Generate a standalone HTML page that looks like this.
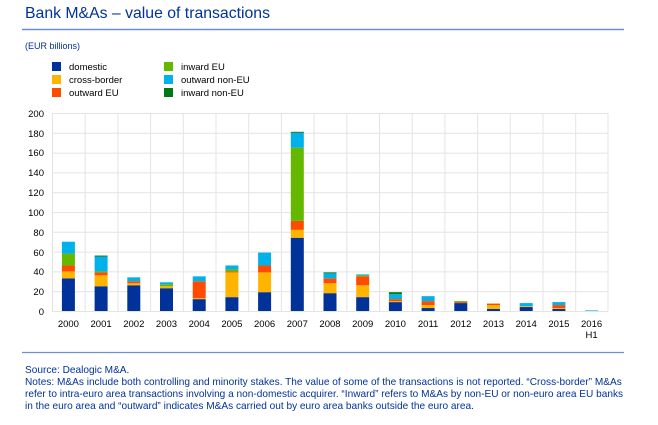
<!DOCTYPE html>
<html><head><meta charset="utf-8"><style>
body{margin:0;width:658px;height:425px;background:#fff;font-family:"Liberation Sans",Arial,sans-serif;overflow:hidden}
svg{position:absolute;left:0;top:0}
</style></head><body>
<svg width="658" height="425" xmlns="http://www.w3.org/2000/svg" font-family="Liberation Sans, Arial, sans-serif">
<text x="25" y="18" font-size="15.8" fill="#003299">Bank M&amp;As – value of transactions</text>
<line x1="22" y1="29.5" x2="624" y2="29.5" stroke="#6b8fd0" stroke-width="1.5"/>
<text x="25" y="49" font-size="9" fill="#003299">(EUR billions)</text>
<g font-size="9.5" fill="#000">
<rect x="52" y="62" width="9" height="9" fill="#003299"/><text x="69" y="70">domestic</text>
<rect x="52" y="75" width="9" height="9" fill="#ffb400"/><text x="69" y="83">cross-border</text>
<rect x="52" y="88" width="9" height="9" fill="#ff4b00"/><text x="69" y="96">outward EU</text>
<rect x="164" y="62" width="9" height="9" fill="#65b800"/><text x="181" y="70">inward EU</text>
<rect x="164" y="75" width="9" height="9" fill="#00b1ea"/><text x="181" y="83">outward non-EU</text>
<rect x="164" y="88" width="9" height="9" fill="#007816"/><text x="181" y="96">inward non-EU</text>
</g>
<g stroke="#e4e4e4" stroke-width="1">
<line x1="52" y1="113.5" x2="608" y2="113.5"/><line x1="52" y1="133.3" x2="608" y2="133.3"/><line x1="52" y1="153.1" x2="608" y2="153.1"/><line x1="52" y1="172.9" x2="608" y2="172.9"/><line x1="52" y1="192.7" x2="608" y2="192.7"/><line x1="52" y1="212.5" x2="608" y2="212.5"/><line x1="52" y1="232.3" x2="608" y2="232.3"/><line x1="52" y1="252.1" x2="608" y2="252.1"/><line x1="52" y1="271.9" x2="608" y2="271.9"/><line x1="52" y1="291.7" x2="608" y2="291.7"/><line x1="52" y1="311.5" x2="608" y2="311.5"/>
<line x1="52.5" y1="113" x2="52.5" y2="311"/><line x1="85.2" y1="113" x2="85.2" y2="311"/><line x1="117.9" y1="113" x2="117.9" y2="311"/><line x1="150.6" y1="113" x2="150.6" y2="311"/><line x1="183.3" y1="113" x2="183.3" y2="311"/><line x1="216" y1="113" x2="216" y2="311"/><line x1="248.7" y1="113" x2="248.7" y2="311"/><line x1="281.4" y1="113" x2="281.4" y2="311"/><line x1="314.1" y1="113" x2="314.1" y2="311"/><line x1="346.8" y1="113" x2="346.8" y2="311"/><line x1="379.5" y1="113" x2="379.5" y2="311"/><line x1="412.2" y1="113" x2="412.2" y2="311"/><line x1="444.9" y1="113" x2="444.9" y2="311"/><line x1="477.6" y1="113" x2="477.6" y2="311"/><line x1="510.3" y1="113" x2="510.3" y2="311"/><line x1="543" y1="113" x2="543" y2="311"/><line x1="575.7" y1="113" x2="575.7" y2="311"/><line x1="608" y1="113" x2="608" y2="311"/>
</g>
<g font-size="9.5" fill="#000" text-anchor="end">
<text x="44" y="117">200</text><text x="44" y="137">180</text><text x="44" y="156">160</text><text x="44" y="176">140</text><text x="44" y="196">120</text><text x="44" y="216">100</text><text x="44" y="236">80</text><text x="44" y="256">60</text><text x="44" y="275">40</text><text x="44" y="295">20</text><text x="44" y="315">0</text>
</g>
<g transform="translate(0,311) scale(1,-0.99)">
<g transform="translate(61.9,0)"><rect width="13" y="0" height="33" fill="#003299"/><rect width="13" y="33" height="7" fill="#ffb400"/><rect width="13" y="40" height="6" fill="#ff4b00"/><rect width="13" y="46" height="12" fill="#65b800"/><rect width="13" y="58" height="12" fill="#00b1ea"/></g>
<g transform="translate(94.6,0)"><rect width="13" y="0" height="25" fill="#003299"/><rect width="13" y="25" height="11" fill="#ffb400"/><rect width="13" y="36" height="3" fill="#ff4b00"/><rect width="13" y="39" height="1" fill="#65b800"/><rect width="13" y="40" height="15" fill="#00b1ea"/><rect width="13" y="55" height="1" fill="#007816"/></g>
<g transform="translate(127.3,0)"><rect width="13" y="0" height="26" fill="#003299"/><rect width="13" y="26" height="2" fill="#ffb400"/><rect width="13" y="28" height="2" fill="#ff4b00"/><rect width="13" y="30" height="4" fill="#00b1ea"/></g>
<g transform="translate(160,0)"><rect width="13" y="0" height="23" fill="#003299"/><rect width="13" y="23" height="2" fill="#ffb400"/><rect width="13" y="25" height="2" fill="#65b800"/><rect width="13" y="27" height="2" fill="#00b1ea"/></g>
<g transform="translate(192.7,0)"><rect width="13" y="0" height="12" fill="#003299"/><rect width="13" y="12" height="1" fill="#ffb400"/><rect width="13" y="13" height="17" fill="#ff4b00"/><rect width="13" y="30" height="5" fill="#00b1ea"/></g>
<g transform="translate(225.4,0)"><rect width="13" y="0" height="14" fill="#003299"/><rect width="13" y="14" height="25" fill="#ffb400"/><rect width="13" y="39" height="1" fill="#ff4b00"/><rect width="13" y="40" height="2" fill="#65b800"/><rect width="13" y="42" height="4" fill="#00b1ea"/></g>
<g transform="translate(258.1,0)"><rect width="13" y="0" height="19" fill="#003299"/><rect width="13" y="19" height="20" fill="#ffb400"/><rect width="13" y="39" height="7" fill="#ff4b00"/><rect width="13" y="46" height="13" fill="#00b1ea"/></g>
<g transform="translate(290.8,0)"><rect width="13" y="0" height="74" fill="#003299"/><rect width="13" y="74" height="8" fill="#ffb400"/><rect width="13" y="82" height="9" fill="#ff4b00"/><rect width="13" y="91" height="74" fill="#65b800"/><rect width="13" y="165" height="15" fill="#00b1ea"/><rect width="13" y="180" height="1" fill="#007816"/></g>
<g transform="translate(323.5,0)"><rect width="13" y="0" height="18" fill="#003299"/><rect width="13" y="18" height="10" fill="#ffb400"/><rect width="13" y="28" height="5" fill="#ff4b00"/><rect width="13" y="33" height="5" fill="#00b1ea"/><rect width="13" y="38" height="1" fill="#007816"/></g>
<g transform="translate(356.2,0)"><rect width="13" y="0" height="14" fill="#003299"/><rect width="13" y="14" height="12" fill="#ffb400"/><rect width="13" y="26" height="9" fill="#ff4b00"/><rect width="13" y="35" height="1" fill="#65b800"/><rect width="13" y="36" height="1" fill="#00b1ea"/></g>
<g transform="translate(388.9,0)"><rect width="13" y="0" height="9" fill="#003299"/><rect width="13" y="9" height="1" fill="#ffb400"/><rect width="13" y="10" height="2" fill="#ff4b00"/><rect width="13" y="12" height="5" fill="#00b1ea"/><rect width="13" y="17" height="2" fill="#007816"/></g>
<g transform="translate(421.6,0)"><rect width="13" y="0" height="3" fill="#003299"/><rect width="13" y="3" height="3" fill="#ffb400"/><rect width="13" y="6" height="4" fill="#ff4b00"/><rect width="13" y="10" height="5" fill="#00b1ea"/></g>
<g transform="translate(454.3,0)"><rect width="13" y="0" height="8" fill="#003299"/><rect width="13" y="8" height="1" fill="#ff4b00"/><rect width="13" y="9" height="1" fill="#65b800"/></g>
<g transform="translate(487,0)"><rect width="13" y="0" height="2" fill="#003299"/><rect width="13" y="2" height="4" fill="#ffb400"/><rect width="13" y="6" height="1.5" fill="#ff4b00"/></g>
<g transform="translate(519.7,0)"><rect width="13" y="0" height="4" fill="#003299"/><rect width="13" y="4" height="1" fill="#ffb400"/><rect width="13" y="5" height="3" fill="#00b1ea"/></g>
<g transform="translate(552.4,0)"><rect width="13" y="0" height="2" fill="#003299"/><rect width="13" y="2" height="1" fill="#ffb400"/><rect width="13" y="3" height="3" fill="#ff4b00"/><rect width="13" y="6" height="3" fill="#00b1ea"/></g>
<g transform="translate(585.1,0)"><rect width="13" y="0" height="0.6" fill="#00b1ea"/></g>
</g>
<g font-size="9.5" fill="#000" text-anchor="middle">
<text x="68.4" y="327">2000</text><text x="101.1" y="327">2001</text><text x="133.8" y="327">2002</text><text x="166.5" y="327">2003</text><text x="199.2" y="327">2004</text><text x="231.9" y="327">2005</text><text x="264.6" y="327">2006</text><text x="297.3" y="327">2007</text><text x="330" y="327">2008</text><text x="362.7" y="327">2009</text><text x="395.4" y="327">2010</text><text x="428.1" y="327">2011</text><text x="460.8" y="327">2012</text><text x="493.5" y="327">2013</text><text x="526.2" y="327">2014</text><text x="558.9" y="327">2015</text><text x="591.6" y="327">2016</text><text x="591.6" y="338">H1</text>
</g>
<line x1="22" y1="352.5" x2="624" y2="352.5" stroke="#6b8fd0" stroke-width="1.2"/>
<g font-size="10.1" fill="#003299">
<text x="25" y="373">Source: Dealogic M&amp;A.</text>
<text x="25" y="385">Notes: M&amp;As include both controlling and minority stakes. The value of some of the transactions is not reported. “Cross-border” M&amp;As</text>
<text x="25" y="397">refer to intra-euro area transactions involving a non-domestic acquirer. “Inward” refers to M&amp;As by non-EU or non-euro area EU banks</text>
<text x="25" y="409">in the euro area and “outward” indicates M&amp;As carried out by euro area banks outside the euro area.</text>
</g>
</svg>
</body></html>
